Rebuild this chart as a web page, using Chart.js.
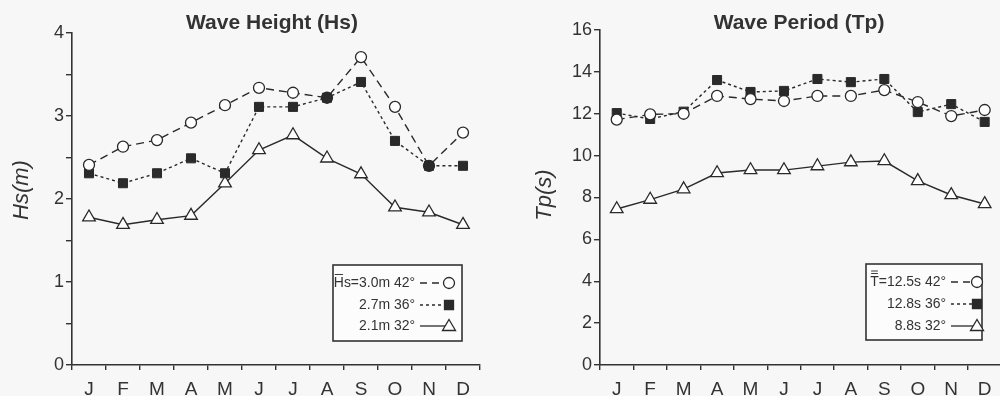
<!DOCTYPE html>
<html>
<head>
<meta charset="utf-8">
<script src="https://cdn.jsdelivr.net/npm/chart.js@4/dist/chart.umd.min.js"></script>
<style>
  html, body { margin:0; padding:0; background:#f7f7f7; }
  #wrap { position:relative; width:1000px; height:396px; overflow:hidden; background:#f7f7f7; }
  #c1 { position:absolute; left:0; top:0; }
  #c2 { position:absolute; left:500px; top:0; }
</style>
</head>
<body>
<div id="wrap">
  <canvas id="c1" width="500" height="396"></canvas>
  <canvas id="c2" width="510" height="396"></canvas>
</div>
<script>
// ---- data ----
const months = ['J','F','M','A','M','J','J','A','S','O','N','D'];
const hs42 = [2.41,2.63,2.71,2.92,3.13,3.34,3.28,3.22,3.71,3.11,2.40,2.80];
const hs36 = [2.31,2.19,2.31,2.49,2.31,3.11,3.11,3.22,3.41,2.70,2.40,2.40];
const hs32 = [1.78,1.69,1.75,1.80,2.19,2.59,2.77,2.49,2.30,1.90,1.84,1.69];
const tp42 = [11.72,11.97,12.0,12.85,12.70,12.61,12.85,12.85,13.13,12.56,11.89,12.18];
const tp36 = [12.03,11.75,12.1,13.61,13.04,13.09,13.66,13.51,13.66,12.08,12.46,11.61];
const tp32 = [7.45,7.9,8.40,9.17,9.31,9.31,9.50,9.69,9.74,8.79,8.12,7.69];
const hsLegend = ['Hs=3.0m 42\u00b0','2.7m 36\u00b0','2.1m 32\u00b0'];
const tpLegend = ['T=12.5s 42\u00b0','12.8s 36\u00b0','8.8s 32\u00b0'];
const hsTitle = 'Wave Height (Hs)';
const tpTitle = 'Wave Period (Tp)';
const hsAxis = 'Hs(m)';
const tpAxis = 'Tp(s)';
const hsFilledIdx = [7,10]; // circle & square coincide -> drawn filled
// ---------------

const INK = '#2a2a2a';
const TXT = '#333';
const FONT = '"Liberation Sans", Arial, sans-serif';

function drawMarker(ctx, style, x, y, filled) {
  ctx.save();
  ctx.setLineDash([]);
  ctx.lineWidth = 1.3;
  ctx.strokeStyle = INK;
  ctx.fillStyle = filled ? INK : '#fff';
  ctx.beginPath();
  if (style === 'circle') {
    ctx.arc(x, y, 5.5, 0, Math.PI*2);
  } else if (style === 'rect') {
    ctx.rect(x-4.5, y-4.5, 9, 9);
  } else {
    ctx.moveTo(x, y-6.5); ctx.lineTo(x+6.5, y+4.5); ctx.lineTo(x-6.5, y+4.5); ctx.closePath();
  }
  ctx.fill(); ctx.stroke();
  ctx.restore();
}

const decorPlugin = {
  id: 'decor',
  afterDraw(chart, args, o) {
    const ctx = chart.ctx;
    ctx.save();
    // title
    ctx.font = 'bold 21px ' + FONT;
    ctx.fillStyle = TXT;
    ctx.textAlign = 'center';
    ctx.textBaseline = 'middle';
    ctx.fillText(o.title, o.titleX, o.titleY);
    // axis title
    ctx.save();
    ctx.translate(o.axisX, o.axisY);
    ctx.rotate(-Math.PI/2);
    ctx.font = 'italic 22px ' + FONT;
    ctx.fillText(o.axisTitle, 0, 0);
    ctx.restore();
    // legend box
    const L = o.legend;
    ctx.fillStyle = '#fcfcfc';
    ctx.fillRect(L.x, L.y, L.w, L.h);
    ctx.strokeStyle = '#333';
    ctx.lineWidth = 1.6;
    ctx.strokeRect(L.x, L.y, L.w, L.h);
    ctx.font = '15.5px ' + FONT;
    ctx.fillStyle = TXT;
    ctx.textAlign = 'right';
    L.labels.forEach((t, i) => {
      const y = L.rowY[i];
      ctx.save();
      ctx.translate(L.textRight, y);
      ctx.scale(0.9, 1);
      ctx.fillText(t, 0, 0);
      if (i === 0 && L.bars) {
        const w = ctx.measureText(t).width;
        const hw = ctx.measureText(t[0]).width;
        ctx.strokeStyle = TXT; ctx.lineWidth = 1;
        for (let b = 0; b < L.bars; b++) {
          ctx.beginPath();
          ctx.moveTo(-w + 1, -8.5 - b*2.5);
          ctx.lineTo(-w + hw - 1, -8.5 - b*2.5);
          ctx.stroke();
        }
      }
      ctx.restore();
      ctx.strokeStyle = INK;
      ctx.lineWidth = 1.3;
      ctx.setLineDash(L.dashes[i]);
      ctx.beginPath();
      ctx.moveTo(L.textRight + 5, y);
      ctx.lineTo(L.markerX, y);
      ctx.stroke();
      ctx.setLineDash([]);
      drawMarker(ctx, L.styles[i], L.markerX, y, L.styles[i] === 'rect');
    });
    ctx.restore();
  }
};

function makeChart(id, cfg) {
  const fillCols = months.map((m, i) => cfg.filled.includes(i) ? INK : '#fff');
  return new Chart(document.getElementById(id), {
    type: 'line',
    data: {
      labels: months,
      datasets: [
        { label: cfg.legend[0], data: cfg.d42, borderColor: INK, borderWidth: 1.4, borderDash: [8,5],
          pointStyle: 'circle', pointRadius: 5.5, pointBorderWidth: 1.3, pointBorderColor: INK,
          pointBackgroundColor: fillCols, tension: 0 },
        { label: cfg.legend[1], data: cfg.d36, borderColor: INK, borderWidth: 1.4, borderDash: [3,3],
          pointStyle: 'rect', pointRadius: 6.4, pointBorderWidth: 1, pointBorderColor: INK,
          pointBackgroundColor: INK, tension: 0 },
        { label: cfg.legend[2], data: cfg.d32, borderColor: INK, borderWidth: 1.4,
          pointStyle: 'triangle', pointRadius: 7.3, pointBorderWidth: 1.3, pointBorderColor: INK,
          pointBackgroundColor: '#fff', tension: 0 }
      ]
    },
    options: {
      responsive: false,
      animation: false,
      events: [],
      layout: { padding: { top: cfg.top, right: cfg.padRight, bottom: 0, left: 0 } },
      plugins: {
        legend: { display: false },
        tooltip: { enabled: false },
        title: { display: false },
        decor: { title: cfg.title, titleX: cfg.titleX, titleY: 23,
                 axisTitle: cfg.axisTitle, axisX: cfg.axisX, axisY: cfg.axisY,
                 legend: cfg.legendBox }
      },
      scales: {
        x: {
          offset: true,
          afterFit: s => { s.height = 31; },
          grid: { offset: true, drawOnChartArea: false, drawTicks: true, tickLength: 5,
                  color: '#333', lineWidth: 1.4 },
          border: { display: true, color: '#333', width: 1.6 },
          ticks: { color: TXT, font: { family: FONT, size: 19 }, padding: 8, maxRotation: 0, autoSkip: false }
        },
        y: {
          min: cfg.ymin, max: cfg.ymax,
          afterFit: s => { s.width = cfg.yWidth; },
          afterBuildTicks: s => { s.ticks = cfg.yticks.map(v => ({ value: v })); },
          grid: { drawOnChartArea: false, drawTicks: true, tickLength: 6, color: '#333', lineWidth: 1.4 },
          border: { display: true, color: '#333', width: 1.6 },
          ticks: {
            color: TXT, font: { family: FONT, size: 18 }, padding: 2,
            callback: v => (Math.abs(v - Math.round(v / cfg.labelStep) * cfg.labelStep) < 1e-6) ? String(v) : ''
          },
          title: { display: false }
        }
      }
    },
    plugins: [decorPlugin]
  });
}

makeChart('c1', {
  d42: hs42, d36: hs36, d32: hs32, legend: hsLegend, filled: hsFilledIdx,
  top: 33, padRight: 20, yWidth: 72, ymin: 0, ymax: 4,
  yticks: [0,0.5,1,1.5,2,2.5,3,3.5,4], labelStep: 1,
  axisTitle: hsAxis, axisX: 22, axisY: 190, title: hsTitle, titleX: 272,
  legendBox: { x: 333, y: 265, w: 129, h: 76, textRight: 415, markerX: 449,
    rowY: [283, 305, 326], labels: hsLegend, bars: 1, dashes: [[7,5],[3,3],[]],
    styles: ['circle','rect','triangle'] }
});

makeChart('c2', {
  d42: tp42, d36: tp36, d32: tp32, legend: tpLegend, filled: [],
  top: 30, padRight: 5, yWidth: 100, ymin: 0, ymax: 16,
  yticks: [0,2,4,6,8,10,12,14,16], labelStep: 2,
  axisTitle: tpAxis, axisX: 45, axisY: 195, title: tpTitle, titleX: 299,
  legendBox: { x: 366, y: 264, w: 116, h: 76, textRight: 446, markerX: 477,
    rowY: [282, 304, 326], labels: tpLegend, bars: 2, dashes: [[7,5],[3,3],[]],
    styles: ['circle','rect','triangle'] }
});
</script>
</body>
</html>
